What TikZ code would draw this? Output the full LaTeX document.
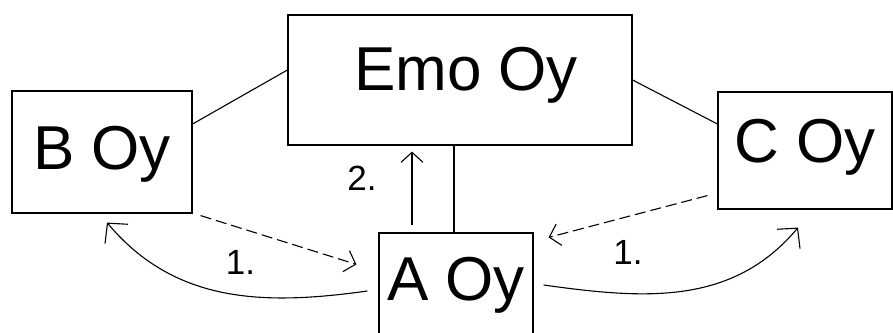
\documentclass[tikz,border=0pt]{standalone}
\usepackage{fontspec}
\setmainfont{Liberation Sans}
\usetikzlibrary{arrows.meta}

\begin{document}
\begin{tikzpicture}[x=1pt, y=1pt,
  firm/.style={draw, rectangle, line width=1.2pt, inner sep=0pt, font=\fontsize{62}{62}\selectfont},
  num/.style={font=\fontsize{35}{35}\selectfont, inner sep=0pt},
  barb/.style={-{Straight Barb[length=10pt,width=22pt]}},
  bigbarb/.style={-{Straight Barb[length=14pt,width=30pt]}},
  link/.style={line width=1.1pt},
  ask/.style={line width=1.1pt, dash pattern=on 11pt off 5pt}]
\clip (0,0) rectangle (893,332);
% the companies
\node[firm, minimum width=344pt, minimum height=130pt, text height=45pt, text depth=24pt] (emo) at (460,252) {\hspace*{12pt}Emo Oy};
\node[firm, minimum width=180pt, minimum height=122pt, text height=47pt, text depth=11pt] (b) at (102,180) {B Oy};
\node[firm, minimum width=174pt, minimum height=117pt, text height=45pt, text depth=20pt] (c) at (805,181.5) {C Oy};
\node[firm, minimum width=154pt, minimum height=119pt, text height=45pt, text depth=30pt] (a) at (456,39.5) {A Oy};
% ownership lines
\draw[link] ([yshift=28pt]b.east) -- ([yshift=10pt]emo.west);
\draw[link] (emo.east) -- ([yshift=26.5pt]c.west);
\draw[link] ([xshift=-2pt]a.north) -- ([xshift=-2pt]a.north |- emo.south);
% step 2
\coordinate (up) at ([xshift=-44pt]a.north);
\draw[link, barb] ([yshift=7pt]up) -- ([yshift=-6pt]up |- emo.south)
  node[num, midway, xshift=-50pt, yshift=10pt] {2.};
% step 1, left
\draw[ask, barb] ([xshift=8pt,yshift=-2pt]b.south east) -- ([xshift=-22pt,yshift=-32pt]a.north west)
  node[num, midway, xshift=-38pt, yshift=-22pt] {1.};
\draw[link, bigbarb] ([xshift=-11pt,yshift=1.5pt]a.west) to[out=188, in=-50] ([xshift=5pt,yshift=-9pt]b.south);
% step 1, right
\draw[ask, barb] ([xshift=-10pt,yshift=14pt]c.south west) -- ([xshift=15pt,yshift=-5pt]a.north east)
  node[num, midway, yshift=-36pt] {1.};
\draw[link, bigbarb] ([xshift=10pt,yshift=7.5pt]a.east) to[out=-8, in=-130] ([xshift=-7pt,yshift=-18pt]c.south);
\end{tikzpicture}
\end{document}
